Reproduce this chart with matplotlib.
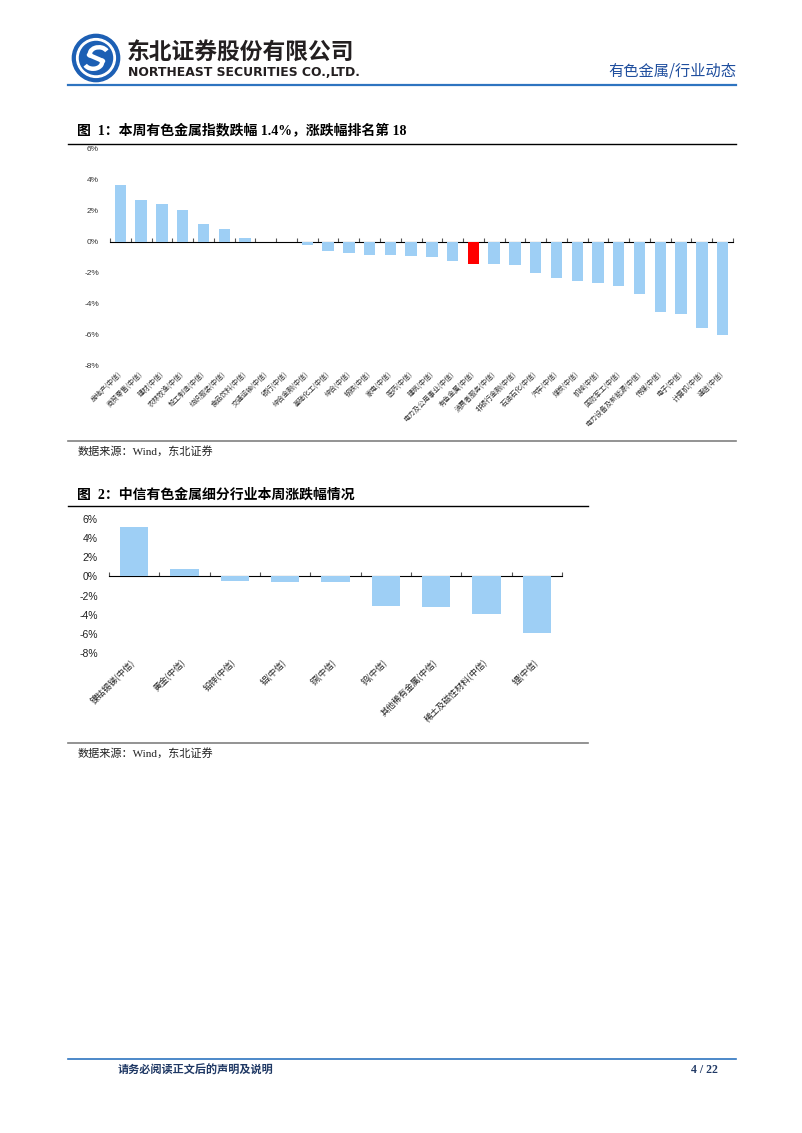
import matplotlib
matplotlib.use("Agg")
import matplotlib.pyplot as plt
from matplotlib.patches import Circle, Arc
from matplotlib.lines import Line2D
import numpy as np

# ---------------- data ----------------
cats1 = ["房地产(中信)", "商贸零售(中信)", "建材(中信)", "农林牧渔(中信)", "轻工制造(中信)",
         "纺织服装(中信)", "食品饮料(中信)", "交通运输(中信)", "银行(中信)", "综合金融(中信)",
         "基础化工(中信)", "综合(中信)", "钢铁(中信)", "家电(中信)", "医药(中信)", "建筑(中信)",
         "电力及公用事业(中信)", "有色金属(中信)", "消费者服务(中信)", "非银行金融(中信)",
         "石油石化(中信)", "汽车(中信)", "煤炭(中信)", "机械(中信)", "国防军工(中信)",
         "电力设备及新能源(中信)", "传媒(中信)", "电子(中信)", "计算机(中信)", "通信(中信)"]
vals1 = [3.65, 2.68, 2.47, 2.08, 1.17, 0.85, 0.26, 0.02, -0.03, -0.22,
         -0.60, -0.71, -0.82, -0.84, -0.88, -0.94, -1.22, -1.41, -1.45, -1.50,
         -2.03, -2.31, -2.52, -2.67, -2.82, -3.38, -4.54, -4.67, -5.55, -5.97]
highlight1 = "有色金属(中信)"

cats2 = ["镍钴锡锑(中信)", "黄金(中信)", "铅锌(中信)", "铝(中信)", "铜(中信)",
         "钨(中信)", "其他稀有金属(中信)", "稀土及磁性材料(中信)", "锂(中信)"]
vals2 = [5.12, 0.77, -0.45, -0.63, -0.63, -3.06, -3.24, -3.97, -5.96]

yticks = [6, 4, 2, 0, -2, -4, -6, -8]
ylim = (-8, 6)

title1 = "图  1：本周有色金属指数跌幅 1.4%，涨跌幅排名第 18"
title2 = "图  2：中信有色金属细分行业本周涨跌幅情况"
source = "数据来源：Wind，东北证券"

# ---------------- style ----------------
W, H = 802, 1133
BAR = "#9ECFF5"
RED = "#FF0000"
BLUE = "#2E74C0"
CJK = "Noto Sans CJK SC"
SERIF_CJK = ["Liberation Serif", CJK]
SANS = ["Liberation Sans", CJK]

fig = plt.figure(figsize=(W / 100, H / 100), dpi=100)


def fx(px):
    return px / W


def fy(py):
    return 1 - py / H


def hline(y, x0, x1, color, lw):
    fig.add_artist(Line2D([fx(x0), fx(x1)], [fy(y), fy(y)], color=color, lw=lw,
                          transform=fig.transFigure))


# ---------------- header ----------------
logo = fig.add_axes([fx(70), fy(84), fx(52), 52 / H])
logo.set_xlim(-1.1, 1.1)
logo.set_ylim(-1.1, 1.1)
logo.set_aspect("equal")
logo.axis("off")
logo.add_patch(Circle((0, 0), 1.0, color="#1C5FB4"))
logo.add_patch(Circle((0, 0), 0.82, color="white"))
logo.add_patch(Circle((0, 0), 0.70, color="#1C5FB4"))
logo.add_patch(Arc((0.12, 0.18), 0.75, 0.55, theta1=20, theta2=200, color="white", lw=3.2))
logo.add_patch(Arc((-0.12, -0.18), 0.75, 0.55, theta1=200, theta2=380, color="white", lw=3.2))
logo.plot([-0.30, 0.30], [0.13, -0.13], color="white", lw=3.2, solid_capstyle="round")

fig.text(fx(127), fy(52), "东北证券股份有限公司", family=CJK, weight="bold",
         fontsize=16.4, color="#231F20", va="center", ha="left")
fig.text(fx(128), fy(72), "NORTHEAST SECURITIES CO.,LTD.", family="DejaVu Sans",
         weight="bold", fontsize=8.9, color="#231F20", va="center", ha="left")
fig.text(fx(736), fy(71), "有色金属/行业动态", family=CJK, fontsize=11,
         color="#1F4E9E", va="center", ha="right")
hline(84.5, 68, 736, BLUE, 1.6)

# ---------------- chart 1 ----------------
fig.text(fx(77), fy(130), title1, family=SERIF_CJK, weight="bold", fontsize=10,
         color="black", va="center", ha="left")
hline(144, 68, 736, "black", 1.0)

ax1 = fig.add_axes([fx(110), fy(366), fx(733 - 110), (366 - 149) / H])
x1 = np.arange(len(cats1))
colors1 = [RED if c == highlight1 else BAR for c in cats1]
ax1.bar(x1, vals1, width=0.55, color=colors1)
ax1.set_xlim(-0.5, len(cats1) - 0.5)
ax1.set_ylim(*ylim)
ax1.set_yticks(yticks)
ax1.set_yticklabels([f"{t}%" for t in yticks], family=SANS, fontsize=6, color="#333333")
ax1.tick_params(axis="y", length=0, pad=8)
ax1.set_xticks(x1)
ax1.set_xticklabels(cats1, family=CJK, fontsize=5, rotation=45, ha="right",
                    va="center", rotation_mode="anchor", color="#333333")
ax1.tick_params(axis="x", length=0, pad=5)
for s in ax1.spines.values():
    s.set_visible(False)
loc1 = (0 - ylim[0]) / (ylim[1] - ylim[0])
sec1 = ax1.secondary_xaxis(loc1)
sec1.set_xticks(np.arange(len(cats1) + 1) - 0.5)
sec1.set_xticklabels([])
sec1.tick_params(axis="x", length=3, width=0.8, color="#555555", direction="out")
sec1.spines["bottom"].set_color("#6b6b6b")
sec1.spines["bottom"].set_linewidth(1.0)

hline(441, 68, 736, "#808080", 1.2)
fig.text(fx(78), fy(451), source, family=SERIF_CJK, fontsize=8, color="#222222",
         va="center", ha="left")

# ---------------- chart 2 ----------------
fig.text(fx(77), fy(495), title2, family=SERIF_CJK, weight="bold", fontsize=10,
         color="black", va="center", ha="left")
hline(506, 68, 588, "black", 1.0)

ax2 = fig.add_axes([fx(109), fy(653), fx(562 - 109), (653 - 519) / H])
x2 = np.arange(len(cats2))
ax2.bar(x2, vals2, width=0.56, color=BAR)
ax2.set_xlim(-0.5, len(cats2) - 0.5)
ax2.set_ylim(*ylim)
ax2.set_yticks(yticks)
ax2.set_yticklabels([f"{t}%" for t in yticks], family=SANS, fontsize=7.5, color="#222222")
ax2.tick_params(axis="y", length=0, pad=8)
ax2.set_xticks(x2)
ax2.set_xticklabels(cats2, family=CJK, fontsize=6.3, rotation=45, ha="right",
                    va="center", rotation_mode="anchor", color="#222222")
ax2.tick_params(axis="x", length=0, pad=6)
for s in ax2.spines.values():
    s.set_visible(False)
sec2 = ax2.secondary_xaxis(loc1)
sec2.set_xticks(np.arange(len(cats2) + 1) - 0.5)
sec2.set_xticklabels([])
sec2.tick_params(axis="x", length=3, width=0.8, color="#555555", direction="out")
sec2.spines["bottom"].set_color("#6b6b6b")
sec2.spines["bottom"].set_linewidth(1.0)

hline(743, 68, 588, "#808080", 1.2)
fig.text(fx(78), fy(753), source, family=SERIF_CJK, fontsize=8, color="#222222",
         va="center", ha="left")

# ---------------- footer ----------------
hline(1059, 68, 736, BLUE, 1.2)
fig.text(fx(118), fy(1070), "请务必阅读正文后的声明及说明", family=CJK, weight="bold",
         fontsize=8, color="#1F3864", va="center", ha="left")
fig.text(fx(718), fy(1070), "4 / 22", family=SERIF_CJK, weight="bold",
         fontsize=8.5, color="#1F3864", va="center", ha="right")

fig.savefig("out.png", dpi=100)
